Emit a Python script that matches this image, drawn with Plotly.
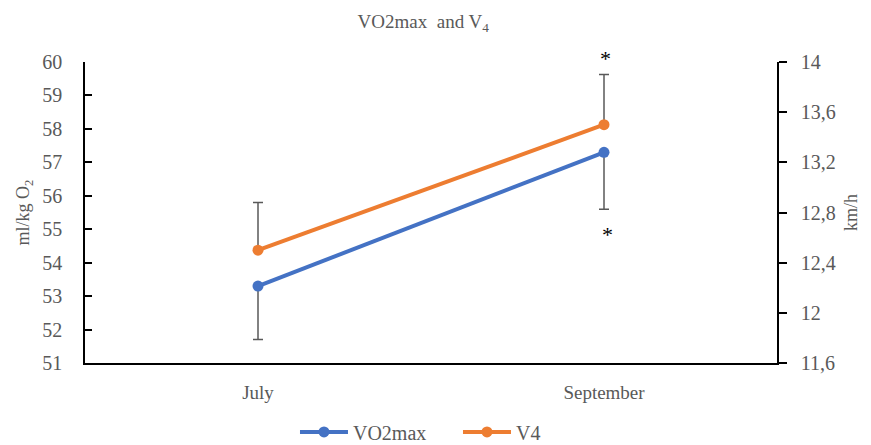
import plotly.graph_objects as go

months = ["July", "September"]
vo2max = [53.3, 57.3]
vo2max_err_minus = [1.6, 1.7]
v4 = [12.5, 13.5]
v4_err_plus = [0.38, 0.40]

left_ticks = [51, 52, 53, 54, 55, 56, 57, 58, 59, 60]
left_labels = [str(v) for v in left_ticks]
right_ticks = [11.6, 12.0, 12.4, 12.8, 13.2, 13.6, 14.0]
right_labels = ["11,6", "12", "12,4", "12,8", "13,2", "13,6", "14"]

FONT = "Liberation Serif"
GRAY = "#595959"

fig = go.Figure()
fig.add_trace(go.Scatter(
    x=months, y=vo2max, name="VO2max", mode="lines+markers",
    line=dict(color="#4472C4", width=4), marker=dict(size=11, color="#4472C4"),
    error_y=dict(type="data", symmetric=False, array=[0, 0], arrayminus=vo2max_err_minus,
                 color=GRAY, thickness=1.5, width=5),
    yaxis="y", cliponaxis=False,
))
fig.add_trace(go.Scatter(
    x=months, y=v4, name="V4", mode="lines+markers",
    line=dict(color="#ED7D31", width=4), marker=dict(size=11, color="#ED7D31"),
    error_y=dict(type="data", symmetric=False, array=v4_err_plus, arrayminus=[0, 0],
                 color=GRAY, thickness=1.5, width=5),
    yaxis="y2", cliponaxis=False,
))

# significance marks at September
fig.add_annotation(x="September", y=1.0, xref="x", yref="paper", text="*", showarrow=False,
                   xanchor="center", yanchor="middle", yshift=4,
                   font=dict(family=FONT, size=22, color="black"), xshift=1)
fig.add_annotation(x="September", y=54.83, xref="x", yref="y", text="*", showarrow=False,
                   xanchor="center", yanchor="middle",
                   font=dict(family=FONT, size=22, color="black"), xshift=3)

fig.update_layout(
    width=871, height=445,
    margin=dict(l=85, r=94, t=62, b=82, autoexpand=False),
    plot_bgcolor="white", paper_bgcolor="white",
    font=dict(family=FONT, size=19, color=GRAY),
    title=dict(text="VO2max  and V<sub>4</sub>", x=0.486, xanchor="center", y=0.953, yanchor="middle",
               font=dict(family=FONT, size=19, color=GRAY)),
    xaxis=dict(type="category", range=[-0.5, 1.5], showline=True, linecolor="black", linewidth=1.5,
               ticks="", showgrid=False, tickfont=dict(family=FONT, size=19, color=GRAY),
               ticklabelstandoff=11, automargin=False),
    yaxis=dict(range=[51, 60], tickvals=left_ticks, ticktext=left_labels, showline=True,
               linecolor="black", linewidth=1.5, ticks="inside", ticklen=7, tickcolor="black",
               tickwidth=1.5, showgrid=False, zeroline=False, ticklabelstandoff=17,
               automargin=False, tickfont=dict(family=FONT, size=20, color=GRAY),
               title=dict(text="ml/kg O<sub>2</sub>", font=dict(family=FONT, size=18, color=GRAY), standoff=8)),
    yaxis2=dict(range=[11.6, 14], tickvals=right_ticks, ticktext=right_labels, overlaying="y",
                side="right", showline=True, linecolor="black", linewidth=1.5, ticks="outside",
                ticklen=8, tickcolor="black", tickwidth=1.5, showgrid=False, zeroline=False,
                ticklabelstandoff=10, automargin=False, tickfont=dict(family=FONT, size=20, color=GRAY),
                title=dict(text="km/h", font=dict(family=FONT, size=18, color=GRAY), standoff=10)),
    legend=dict(orientation="h", x=0.539, xanchor="center", y=-0.229, yanchor="middle",
                font=dict(family=FONT, size=20, color=GRAY), tracegroupgap=0,
                itemwidth=48, entrywidth=100, entrywidthmode="pixels"),
    showlegend=True,
)

fig.write_html("out.html", post_script="document.body.style.margin='0';",
               config={"displayModeBar": False})
